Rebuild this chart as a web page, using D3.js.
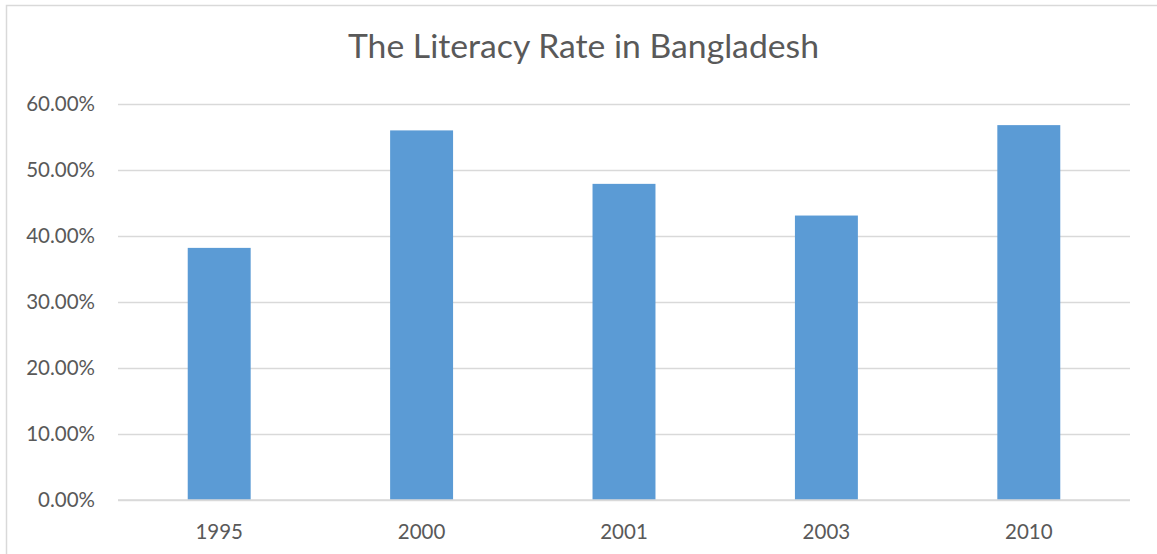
<!DOCTYPE html>
<html>
<head>
<meta charset="utf-8">
<script src="https://cdn.jsdelivr.net/npm/d3@7"></script>
<style>
  html, body { margin: 0; padding: 0; background: #fff; overflow: hidden; }
  svg { display: block; }
</style>
</head>
<body>
<svg id="chart" width="1157" height="554"></svg>
<script>
const categories = ["1995", "2000", "2001", "2003", "2010"];
const literacyRate = [0.382, 0.560, 0.479, 0.431, 0.568];
const yTicks = [0, 0.1, 0.2, 0.3, 0.4, 0.5, 0.6];
const titleText = "The Literacy Rate in Bangladesh";

const svg = d3.select("#chart");
const plot = { left: 118, right: 1130, top: 104, bottom: 500 };
const textColor = "#595959";
const gridColor = "#D9D9D9";
const barColor = "#5B9BD5";
const font = "Lato, 'Open Sans', sans-serif";

// chart frame (extends past the viewport on right and bottom)
svg.append("rect")
  .attr("x", 6.5).attr("y", 5.5)
  .attr("width", 1160).attr("height", 560)
  .attr("fill", "#fff")
  .attr("stroke", gridColor).attr("stroke-width", 1.5);

const x = d3.scaleBand()
  .domain(categories)
  .range([plot.left, plot.right])
  .paddingInner(0.689)
  .paddingOuter(0.689 / 2);

const y = d3.scaleLinear()
  .domain([0, 0.6])
  .range([plot.bottom, plot.top]);

const yAxis = d3.axisLeft(y)
  .tickValues(yTicks)
  .tickFormat(d3.format(".2%"))
  .tickSize(-(plot.right - plot.left))
  .tickPadding(23);

const gy = svg.append("g")
  .attr("transform", `translate(${plot.left},0)`)
  .call(yAxis);
gy.select(".domain").remove();
gy.selectAll(".tick line")
  .attr("stroke", gridColor).attr("stroke-width", 1.3);
gy.selectAll(".tick text")
  .attr("fill", textColor)
  .style("font-family", font)
  .style("font-size", "20.5px");

svg.append("g").selectAll("rect")
  .data(categories)
  .join("rect")
  .attr("x", d => x(d))
  .attr("width", x.bandwidth())
  .attr("y", (d, i) => y(literacyRate[i]))
  .attr("height", (d, i) => y(0) - y(literacyRate[i]))
  .attr("fill", barColor);

svg.append("line")
  .attr("x1", plot.left).attr("x2", plot.right)
  .attr("y1", y(0)).attr("y2", y(0))
  .attr("stroke", gridColor).attr("stroke-width", 1.3);

const xAxis = d3.axisBottom(x).tickSize(0).tickPadding(24);
const gx = svg.append("g")
  .attr("transform", `translate(0,${plot.bottom})`)
  .call(xAxis);
gx.select(".domain").remove();
gx.selectAll(".tick text")
  .attr("fill", textColor)
  .style("font-family", font)
  .style("font-size", "20.5px");

const title = svg.append("text")
  .attr("x", 583.5).attr("y", 58)
  .attr("text-anchor", "middle")
  .attr("fill", textColor)
  .style("font-family", font)
  .style("font-size", "30px")
  .text(titleText);
const len = title.node().getComputedTextLength();
title.style("font-size", (30 * 471 / len).toFixed(2) + "px");
</script>
</body>
</html>
